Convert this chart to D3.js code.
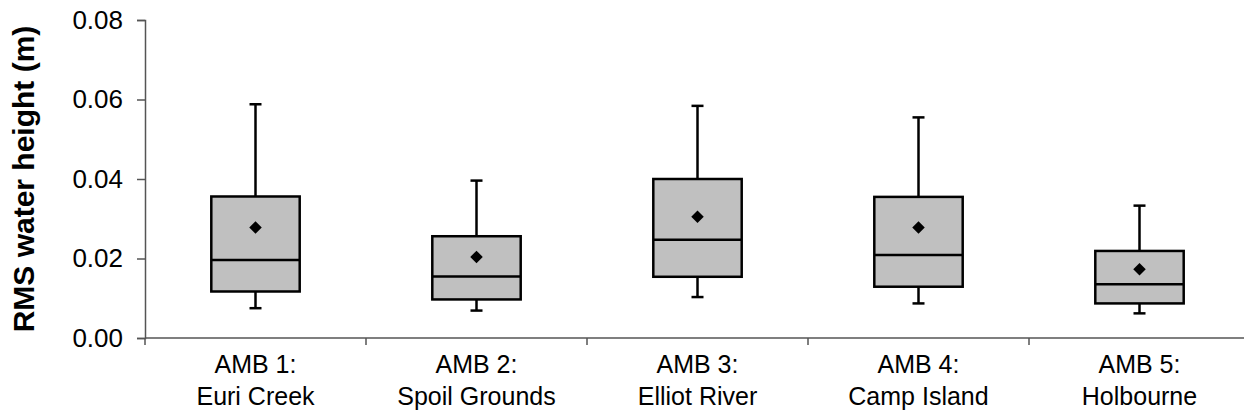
<!DOCTYPE html>
<html>
<head>
<meta charset="utf-8">
<script src="https://cdn.jsdelivr.net/npm/d3@7"></script>
<style>
  body { margin: 0; background: #fff; }
  svg text { font-family: Arial, "Liberation Sans", sans-serif; fill: #000; }
</style>
</head>
<body>
<div id="chart"></div>
<script>
// site names (two-line labels)
const sites = ['AMB 1:|Euri Creek', 'AMB 2:|Spoil Grounds', 'AMB 3:|Elliot River', 'AMB 4:|Camp Island', 'AMB 5:|Holbourne'];
// box stats
const whiskerLow  = [0.0075, 0.0069, 0.0103, 0.0087, 0.0062];
const q1          = [0.0117, 0.0097, 0.0154, 0.0129, 0.0087];
const median      = [0.0196, 0.0155, 0.0247, 0.0209, 0.0135];
const q3          = [0.0356, 0.0256, 0.0400, 0.0355, 0.0219];
const whiskerHigh = [0.0588, 0.0396, 0.0584, 0.0555, 0.0333];
const means       = [0.0278, 0.0204, 0.0305, 0.0278, 0.0173];
const yTicks = [0, 0.02, 0.04, 0.06, 0.08];

const W = 1244, H = 417;
const margin = {top: 20, right: -6, bottom: 79, left: 145};
const width = W - margin.left - margin.right;
const height = H - margin.top - margin.bottom;

const svg = d3.select('#chart').append('svg')
  .attr('width', W).attr('height', H);
const g = svg.append('g').attr('transform', `translate(${margin.left},${margin.top})`);

const x = d3.scaleBand().domain(sites).range([0, width]);
const y = d3.scaleLinear().domain([0, 0.08]).range([height, 0]);

const rows = sites.map((s, i) => ({
  site: s, lo: whiskerLow[i], q1: q1[i], med: median[i], q3: q3[i], hi: whiskerHigh[i], mean: means[i]
}));

// y axis
const yAxis = g.append('g')
  .call(d3.axisLeft(y).tickValues(yTicks).tickFormat(d3.format('.2f')).tickSize(8).tickPadding(14));
yAxis.select('.domain').attr('stroke', '#555').attr('stroke-width', 1.5);
yAxis.selectAll('.tick line').attr('stroke', '#555').attr('stroke-width', 1.5);
yAxis.selectAll('.tick text').attr('font-size', 26).attr('fill', '#000')
  .style('font-family', 'Arial, "Liberation Sans", sans-serif');

// x axis: ticks at category boundaries
const bounds = sites.map(s => x(s)).concat([width]);
g.append('line')
  .attr('x1', 0).attr('x2', width).attr('y1', height).attr('y2', height)
  .attr('stroke', '#555').attr('stroke-width', 1.5);
g.selectAll('.xtick').data(bounds).join('line')
  .attr('class', 'xtick')
  .attr('x1', d => d).attr('x2', d => d)
  .attr('y1', height).attr('y2', height + 7)
  .attr('stroke', '#555').attr('stroke-width', 1.5);

const lab = g.selectAll('.xlab').data(sites).join('text')
  .attr('class', 'xlab')
  .attr('text-anchor', 'middle')
  .attr('font-size', 25)
  .attr('x', d => x(d) + x.bandwidth() / 2);
lab.append('tspan').attr('x', d => x(d) + x.bandwidth() / 2).attr('y', height + 35).text(d => d.split('|')[0]);
lab.append('tspan').attr('x', d => x(d) + x.bandwidth() / 2).attr('y', height + 67).text(d => d.split('|')[1]);

// y title
svg.append('text')
  .attr('transform', `translate(34,${margin.top + height / 2}) rotate(-90)`)
  .attr('text-anchor', 'middle')
  .attr('font-size', 30)
  .attr('font-weight', 'bold')
  .text('RMS water height (m)');

// boxes
const bw = x.bandwidth() * 0.4;
const capW = 12;
const box = g.selectAll('.box').data(rows).join('g')
  .attr('class', 'box')
  .attr('transform', d => `translate(${x(d.site) + x.bandwidth() / 2},0)`);

box.append('line')
  .attr('x1', 0).attr('x2', 0)
  .attr('y1', d => y(d.hi)).attr('y2', d => y(d.lo))
  .attr('stroke', '#000').attr('stroke-width', 2.5);
box.append('line')
  .attr('x1', -capW / 2).attr('x2', capW / 2)
  .attr('y1', d => y(d.hi)).attr('y2', d => y(d.hi))
  .attr('stroke', '#000').attr('stroke-width', 2.5);
box.append('line')
  .attr('x1', -capW / 2).attr('x2', capW / 2)
  .attr('y1', d => y(d.lo)).attr('y2', d => y(d.lo))
  .attr('stroke', '#000').attr('stroke-width', 2.5);
box.append('rect')
  .attr('x', -bw / 2).attr('width', bw)
  .attr('y', d => y(d.q3)).attr('height', d => y(d.q1) - y(d.q3))
  .attr('fill', '#c0c0c0').attr('stroke', '#000').attr('stroke-width', 2.5);
box.append('line')
  .attr('x1', -bw / 2).attr('x2', bw / 2)
  .attr('y1', d => y(d.med)).attr('y2', d => y(d.med))
  .attr('stroke', '#000').attr('stroke-width', 2.5);
box.append('path')
  .attr('d', d3.symbol().type(d3.symbolDiamond2).size(100))
  .attr('transform', d => `translate(0,${y(d.mean)})`)
  .attr('fill', '#000');
</script>
</body>
</html>
